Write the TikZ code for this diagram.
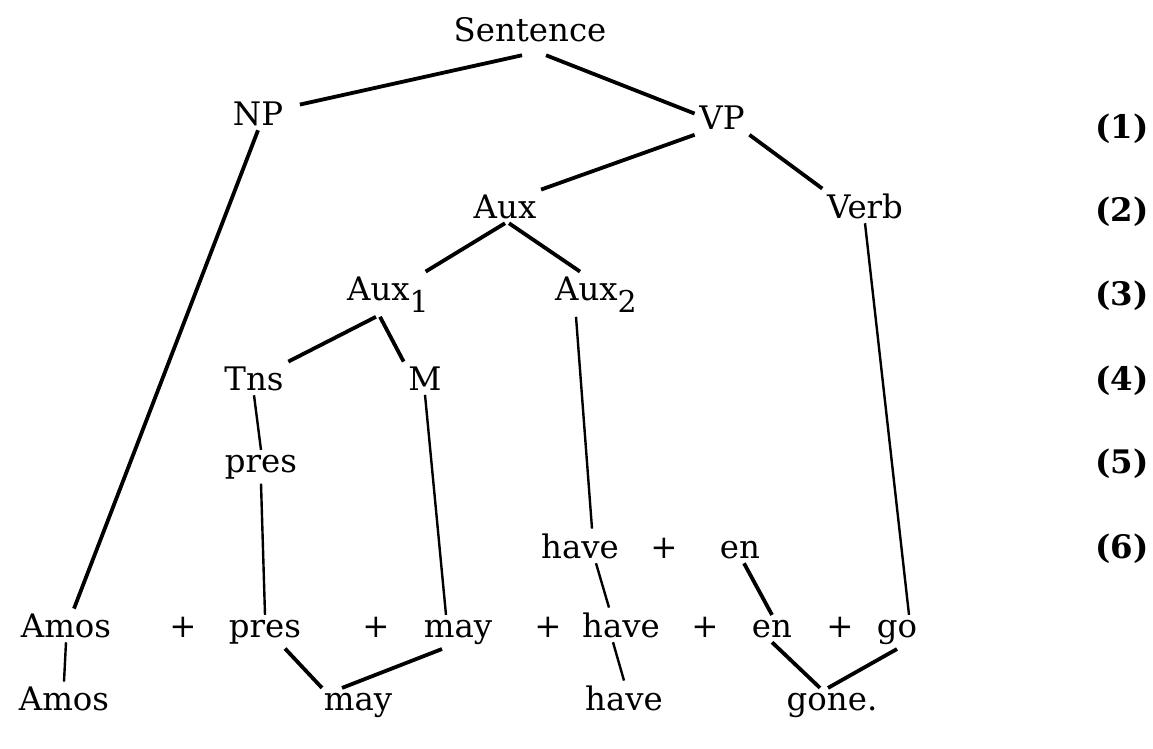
\documentclass[tikz,border=0pt]{standalone}
\usepackage{fontspec}
\setmainfont{DejaVu Serif}
\usepackage{tikz}

\begin{document}
\begin{tikzpicture}[x=0.25pt,y=-0.25pt,
    word/.style={inner sep=1pt,anchor=base,font=\fontsize{8.1}{10}\selectfont},
    stage/.style={inner sep=1pt,anchor=base,font=\fontsize{8.1}{10}\selectfont\bfseries},
    branch/.style={line width=0.95pt},
    stem/.style={line width=0.6pt}]
    \useasboundingbox (0,0) rectangle (1153,748);
    \node[word] (S) at (530,42) {Sentence};
    \node[word] (NP) at (258,125) {NP};
    \node[word] (VP) at (722,130) {VP};
    \node[word] (Aux) at (505,218) {Aux};
    \node[word] (Verb) at (865,218) {Verb};
    \node[word] (AuxA) at (388,300) {Aux\raisebox{-3pt}{\fontsize{7.5}{9}\selectfont 1}};
    \node[word] (AuxB) at (596,300) {Aux\raisebox{-3pt}{\fontsize{7.5}{9}\selectfont 2}};
    \node[word] (Tns) at (254,390) {Tns};
    \node[word] (M) at (425,390) {M};
    \node[word] (pres) at (261,472) {pres};
    \node[word] (haveA) at (580,558) {have};
    \node[word] (plA) at (664,558) {+};
    \node[word] (enA) at (740,558) {en};
    \node[word] (AmosB) at (66,637) {Amos};
    \node[word] (p1) at (183,637) {+};
    \node[word] (presB) at (265,637) {pres};
    \node[word] (p2) at (376,637) {+};
    \node[word] (mayB) at (458,637) {may};
    \node[word] (p3) at (548,637) {+};
    \node[word] (haveB) at (621,637) {have};
    \node[word] (p4) at (705,637) {+};
    \node[word] (enB) at (772,637) {en};
    \node[word] (p5) at (840,637) {+};
    \node[word] (go) at (897,637) {go};
    \node[word] (AmosC) at (64,710) {Amos};
    \node[word] (mayC) at (358,710) {may};
    \node[word] (haveC) at (624,710) {have};
    \node[word] (gone) at (832,710) {gone.};
    \node[stage] (r1) at (1122,138) {(1)};
    \node[stage] (r2) at (1122,222) {(2)};
    \node[stage] (r3) at (1122,305) {(3)};
    \node[stage] (r4) at (1122,390) {(4)};
    \node[stage] (r5) at (1122,473) {(5)};
    \node[stage] (r6) at (1122,558) {(6)};
    \draw[branch] ([xshift=-2pt,yshift=-2pt]S.south) -- ([xshift=3pt,yshift=-2pt]NP.north east);
    \draw[branch] ([xshift=4pt,yshift=-2pt]S.south) -- ([yshift=-3pt]VP.north west);
    \draw[branch] (VP.south west) -- (Aux.north east);
    \draw[branch] (VP.south east) -- (Verb.north west);
    \draw[branch] (Aux.south) -- ([xshift=-2pt]AuxA.north east);
    \draw[branch] ([xshift=1pt]Aux.south) -- ([xshift=-4pt]AuxB.north);
    \draw[branch] ([xshift=-3pt]AuxA.south) -- (Tns.north east);
    \draw[branch] ([xshift=-2pt]AuxA.south) -- (M.north west);
    \draw[branch] (NP.south) -- ([xshift=2pt]AmosB.north);
    \draw[stem] (Tns.south) -- (pres.north);
    \draw[stem] ([xshift=-5pt]AuxB.south) -- ([xshift=3pt]haveA.north);
    \draw[stem] (Verb.south) -- ([xshift=3pt]go.north);
    \draw[stem] (M.south) -- ([xshift=-3pt]mayB.north);
    \draw[stem] (pres.south) -- (presB.north);
    \draw[stem] ([xshift=4pt]haveA.south) -- ([xshift=-3pt]haveB.north);
    \draw[branch] ([xshift=1pt]enA.south) -- (enB.north);
    \draw[stem] (AmosB.south) -- (AmosC.north);
    \draw[branch] ([xshift=5pt]presB.south) -- ([xshift=-9pt]mayC.north);
    \draw[branch] ([xshift=-4pt]mayB.south) -- ([xshift=-4pt]mayC.north);
    \draw[stem] ([xshift=-2pt]haveB.south) -- (haveC.north);
    \draw[branch] (enB.south) -- ([xshift=-3pt]gone.north);
    \draw[branch] (go.south) -- ([xshift=-1pt]gone.north);
\end{tikzpicture}
\end{document}
